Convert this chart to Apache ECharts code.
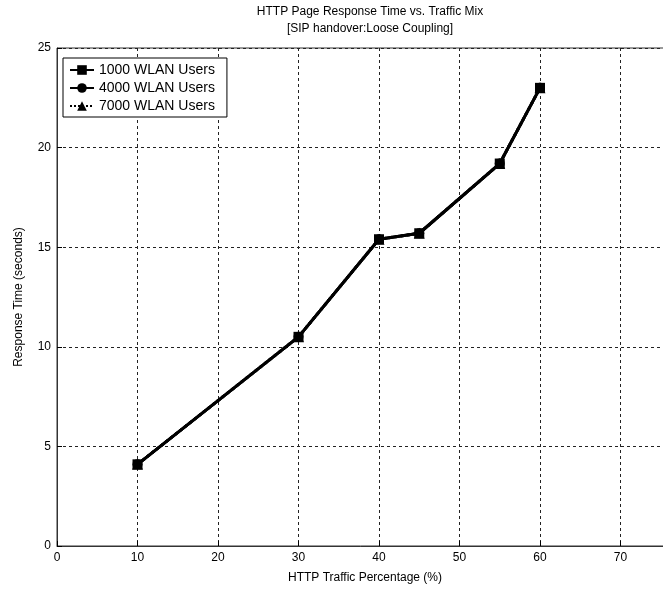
<!DOCTYPE html>
<html>
<head>
<meta charset="utf-8">
<script src="https://cdn.jsdelivr.net/npm/echarts@6/dist/echarts.min.js"></script>
<style>
  html, body { margin: 0; padding: 0; background: #fff; }
  #main { width: 663px; height: 589px; }
</style>
</head>
<body>
<div id="main"></div>
<script>
// traffic percentage (%)
const xValues = [10, 30, 40, 45, 55, 60]
// response time (seconds)
const users1000 = [4.1, 10.5, 15.4, 15.7, 19.2, 23.0]
const users4000 = [4.1, 10.5, 15.4, 15.7, 19.2, 23.0]
const users7000 = [4.1, 10.5, 15.4, 15.7, 19.2, 23.0]
const seriesNames = ['1000 WLAN Users', '4000 WLAN Users', '7000 WLAN Users']

const font = 'Liberation Sans, Arial, sans-serif'
const pairs = ys => xValues.map((x, i) => [x, ys[i]])

let myChart = echarts.init(document.getElementById('main'))

let option = {
  animation: false,
  textStyle: { fontFamily: font, color: '#000' },
  title: {
    text: 'HTTP Page Response Time vs. Traffic Mix\n[SIP handover:Loose Coupling]',
    left: 365,
    top: -2,
    textAlign: 'center',
    textStyle: { fontSize: 12, fontWeight: 'normal', color: '#000', lineHeight: 17, fontFamily: font }
  },
  legend: {
    data: seriesNames,
    orient: 'vertical',
    left: 63,
    top: 58,
    padding: [5, 12, 4, 6],
    itemGap: 4,
    itemWidth: 24,
    itemHeight: 12,
    backgroundColor: '#fff',
    borderColor: '#000',
    borderWidth: 1,
    borderRadius: 0,
    textStyle: { fontSize: 14, color: '#000', fontFamily: font }
  },
  grid: {
    left: 57,
    top: 48,
    width: 644,
    height: 498,
    outerBoundsMode: 'none',
    containLabel: false,
    show: true,
    borderColor: '#333',
    borderWidth: 1
  },
  xAxis: {
    type: 'value',
    min: 0,
    max: 80,
    interval: 10,
    name: 'HTTP Traffic Percentage (%)',
    nameLocation: 'middle',
    nameGap: 26,
    nameTextStyle: { fontSize: 12, color: '#000', fontFamily: font, padding: [0, 28, 0, 0] },
    axisLine: { show: true, onZero: false, lineStyle: { color: '#333' } },
    axisTick: { show: true, inside: true, length: 5, lineStyle: { color: '#000' } },
    axisLabel: { fontSize: 12, color: '#000', margin: 6 },
    splitLine: { show: true, lineStyle: { type: [3, 3], color: '#222' } }
  },
  yAxis: {
    type: 'value',
    min: 0,
    max: 25,
    interval: 5,
    name: 'Response Time (seconds)',
    nameLocation: 'middle',
    nameGap: 32,
    nameTextStyle: { fontSize: 12, color: '#000', fontFamily: font },
    axisLine: { show: true, lineStyle: { color: '#333' } },
    axisTick: { show: true, inside: true, length: 5, lineStyle: { color: '#000' } },
    axisLabel: { fontSize: 12, color: '#000', margin: 6 },
    splitLine: { show: true, lineStyle: { type: [3, 3], color: '#222' } }
  },
  series: [
    {
      name: seriesNames[0],
      type: 'line',
      data: pairs(users1000),
      symbol: 'rect',
      symbolSize: 10,
      itemStyle: { color: '#000' },
      lineStyle: { color: '#000', width: 3 }
    },
    {
      name: seriesNames[1],
      type: 'line',
      data: pairs(users4000),
      symbol: 'circle',
      symbolSize: 10,
      itemStyle: { color: '#000' },
      lineStyle: { color: '#000', width: 3 }
    },
    {
      name: seriesNames[2],
      type: 'line',
      data: pairs(users7000),
      symbol: 'triangle',
      symbolSize: 11,
      itemStyle: { color: '#000' },
      lineStyle: { color: '#000', width: 3, type: 'dotted' }
    }
  ]
}
myChart.setOption(option, true)
</script>
</body>
</html>
